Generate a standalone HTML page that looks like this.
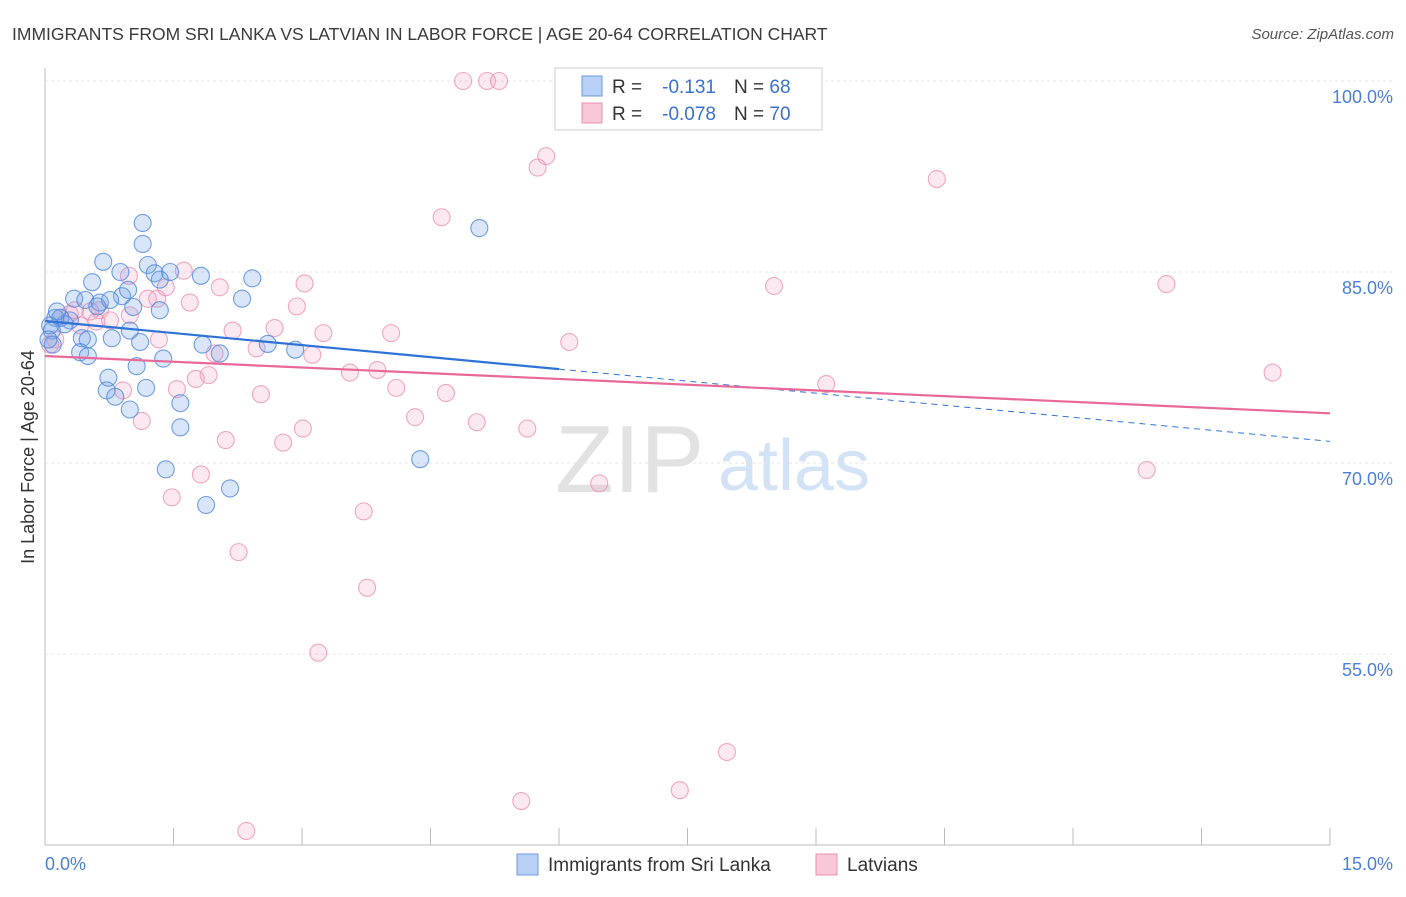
<!DOCTYPE html>
<html><head><meta charset="utf-8"><style>
body{margin:0;background:#fff;font-family:"Liberation Sans",sans-serif}
svg text{font-family:"Liberation Sans",sans-serif}
</style></head><body>
<svg id="c" width="1406" height="892">
<text x="12" y="40" font-size="17.5" fill="#3a3a3a">IMMIGRANTS FROM SRI LANKA VS LATVIAN IN LABOR FORCE | AGE 20-64 CORRELATION CHART</text>
<text x="1394" y="39" font-size="15" fill="#555" font-style="italic" text-anchor="end">Source: ZipAtlas.com</text>
<text transform="translate(34,457) rotate(-90)" font-size="18" fill="#333" text-anchor="middle">In Labor Force | Age 20-64</text>
<g>
<text x="555" y="492" font-size="96" fill="#e2e2e2" font-family="Liberation Serif,serif">ZIP</text>
<text x="718" y="490" font-size="72" fill="#d4e2f6">atlas</text>
</g>
<g id="grid"></g><g id="pts"></g><g id="trend"></g>
<g>
<rect x="555" y="68" width="267" height="62" fill="#fff" stroke="#ccc"/>
<rect x="582" y="76" width="20" height="20" fill="#b8d0f5" stroke="#6a9ae0"/>
<rect x="582" y="103" width="20" height="20" fill="#f8c8d8" stroke="#e890b0"/>
<text x="612" y="93" font-size="19" fill="#333">R = </text>
<text x="716" y="93" font-size="19" fill="#3a70d0" text-anchor="end">-0.131</text>
<text x="734" y="93" font-size="19" fill="#333">N = <tspan fill="#3a70d0">68</tspan></text>
<text x="612" y="120" font-size="19" fill="#333">R = </text>
<text x="716" y="120" font-size="19" fill="#3a70d0" text-anchor="end">-0.078</text>
<text x="734" y="120" font-size="19" fill="#333">N = <tspan fill="#3a70d0">70</tspan></text>
</g>
<g>
<rect x="517" y="854" width="21" height="21" fill="#b8d0f5" stroke="#6a9ae0"/>
<text x="548" y="871" font-size="19" fill="#333">Immigrants from Sri Lanka</text>
<rect x="816" y="854" width="21" height="21" fill="#f8c8d8" stroke="#e890b0"/>
<text x="847" y="871" font-size="19" fill="#333">Latvians</text>
</g>
</svg>
<script>
const yTicks=[100,85,70,55];
const xTickLabels=["0.0%","15.0%"];
const blueX=[1.14,1.14,0.68,0.88,0.55,1.20,1.28,1.46,1.82,2.42,1.34,0.34,0.47,0.64,0.61,0.90,0.97,1.03,1.34,2.30,0.76,0.18,0.29,0.23,0.12,0.06,0.08,0.43,0.50,0.78,0.99,1.11,0.41,0.50,1.38,2.04,1.84,2.60,2.92,1.07,0.74,0.72,0.82,1.18,1.58,0.99,1.58,1.41,1.88,2.16,4.38,5.07,0.09,0.04,0.14];
const blueY=[88.85,87.2,85.8,85.0,84.2,85.55,84.9,85.0,84.7,84.5,84.4,82.9,82.8,82.6,82.3,83.1,83.6,82.25,82.0,82.9,82.8,81.4,81.2,80.9,81.4,80.8,80.4,79.8,79.7,79.8,80.4,79.5,78.7,78.4,78.2,78.6,79.3,79.35,78.9,77.6,76.7,75.7,75.2,75.9,74.7,74.2,72.8,69.5,66.7,68.0,70.3,88.45,79.3,79.7,81.9];
const pinkX=[4.88,5.16,5.30,5.85,5.75,10.41,4.63,13.09,8.51,3.03,1.62,0.98,2.04,1.20,1.31,1.69,2.94,1.41,2.19,2.68,3.25,4.04,6.12,1.33,1.98,2.47,3.12,3.56,3.88,4.10,4.68,1.91,1.76,1.54,0.91,2.52,9.12,14.33,4.32,5.04,5.63,3.01,1.13,2.11,2.78,1.82,1.48,3.72,6.47,12.86,2.26,3.76,3.19,7.96,7.41,5.56,2.35,0.64,0.76,0.99,0.53,0.29,0.18,0.12,0.06,0.41,0.60,0.35];
const pinkY=[100,100,100,94.1,93.2,92.3,89.3,84.05,83.9,84.1,85.1,84.7,83.8,82.9,82.9,82.6,82.3,83.8,80.4,80.6,80.2,80.2,79.5,79.7,78.6,79.0,78.5,77.1,77.3,75.9,75.5,76.9,76.6,75.8,75.7,75.4,76.2,77.1,73.6,73.2,72.7,72.7,73.3,71.8,71.6,69.1,67.3,66.2,68.4,69.45,63.0,60.2,55.1,47.3,44.3,43.45,41.1,82.0,81.2,81.6,81.9,81.7,81.4,79.7,79.3,80.8,81.1,82.0];
const blueTrend=[81.15,-0.63];
const pinkTrend=[78.4,-0.3];
const NS="http://www.w3.org/2000/svg";
const sx=v=>45+v*85.667, sy=v=>81+(100-v)*12.733;
function mk(t,a,p){const e=document.createElementNS(NS,t);for(const k in a)e.setAttribute(k,a[k]);document.getElementById(p).appendChild(e);return e;}
let e=mk('line',{x1:45,y1:68,x2:45,y2:845,stroke:'#bbb'},'grid');


e=mk('line',{x1:45,y1:845,x2:1330,y2:845,stroke:'#bbb'},'grid');


yTicks.forEach(t=>{
 const g=mk('line',{x1:45,y1:sy(t),x2:1393,y2:sy(t),stroke:'#e4e4e4','stroke-dasharray':'3,3'},'grid');
 
 
 const l=mk('text',{x:1393,y:sy(t)+22,'font-size':18,fill:'#4a7fd8','text-anchor':'end'},'grid');
 l.textContent=t.toFixed(1)+'%';
 
 
});
for(let i=0;i<=10;i++){
 const t=mk('line',{x1:sx(i*1.5),y1:828,x2:sx(i*1.5),y2:845,stroke:'#bbb'},'grid');
 
 
}
[[0,'start',45],[15,'end',1393]].forEach((d,i)=>{
 const l=mk('text',{x:d[2],y:870,'font-size':18,fill:'#4a7fd8','text-anchor':d[1]},'grid');
 l.textContent=xTickLabels[i];
 
 
});
function pts(X,Y,fill,stroke,name){X.forEach((x,i)=>{
 const c=mk('circle',{cx:sx(x),cy:sy(Y[i]),r:8.5,fill:fill,stroke:stroke,'stroke-width':1.1},'pts');
 
 
});}
pts(pinkX,pinkY,'rgba(245,165,195,0.25)','rgba(232,140,175,0.75)','latvian-point');
pts(blueX,blueY,'rgba(120,165,235,0.28)','rgba(80,135,220,0.8)','sri-lanka-point');
const f=(t,x)=>t[0]+t[1]*x;
e=mk('line',{x1:sx(0),y1:sy(f(blueTrend,0)),x2:sx(6),y2:sy(f(blueTrend,6)),stroke:'#2e72d8','stroke-width':2.2},'trend');


e=mk('line',{x1:sx(6),y1:sy(f(blueTrend,6)),x2:sx(15),y2:sy(f(blueTrend,15)),stroke:'#2e72d8','stroke-width':1,'stroke-dasharray':'6,5'},'trend');


e=mk('line',{x1:sx(0),y1:sy(f(pinkTrend,0)),x2:sx(15),y2:sy(f(pinkTrend,15)),stroke:'#e8689a','stroke-width':2.2},'trend');


</script>
</body></html>
